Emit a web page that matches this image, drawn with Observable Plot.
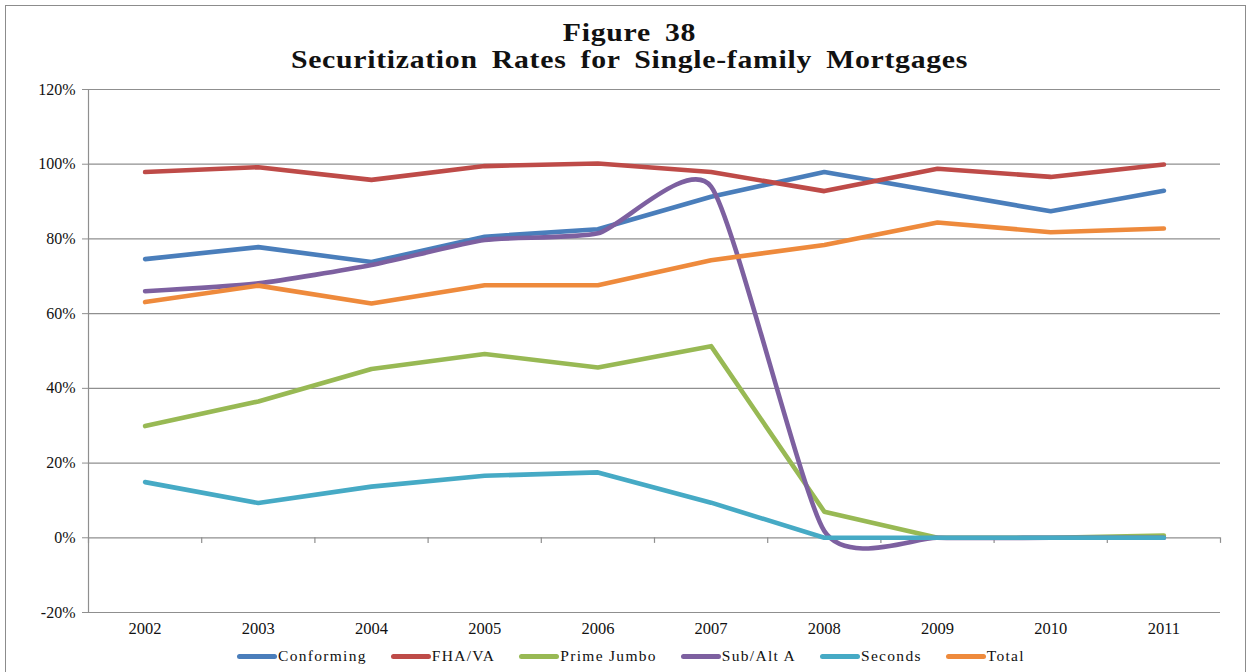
<!DOCTYPE html>
<html>
<head>
<meta charset="utf-8">
<script src="https://cdn.jsdelivr.net/npm/d3@7"></script>
<script src="https://cdn.jsdelivr.net/npm/@observablehq/plot@0.6"></script>
<style>
  html, body { margin: 0; padding: 0; background: #fff; }
  #wrap { position: relative; width: 1249px; height: 672px; overflow: hidden; background: #fff; font-family: "Liberation Serif", "Times New Roman", serif; }
  #border { position: absolute; left: 5px; top: 5px; width: 1241px; height: 700px; border: 1.5px solid #8c8c8c; box-sizing: border-box; }
  #title { position: absolute; left: 0; top: 19px; width: 1259px; text-align: center; font-weight: bold; font-size: 25px; line-height: 27px; letter-spacing: 0.6px; word-spacing: 5px; color: #111; transform: scaleX(1.19); transform-origin: 629.5px 0; }
  #chart { position: absolute; left: 0; top: 80px; }
  #legend { position: absolute; left: 237px; top: 647px; display: flex; align-items: center; font-size: 15.5px; letter-spacing: 1.3px; color: #111; }
  .item { display: flex; align-items: center; margin-right: 24px; }
  .sw { width: 40px; height: 5px; border-radius: 3px; margin-right: 1px; }
</style>
</head>
<body>
<div id="wrap">
  <div id="border"></div>
  <div id="title">Figure 38<br>Securitization Rates for Single-family Mortgages</div>
  <div id="chart"></div>
  <div id="legend"></div>
</div>
<script>
const years = [2002, 2003, 2004, 2005, 2006, 2007, 2008, 2009, 2010, 2011];
const seriesNames = ["Conforming", "FHA/VA", "Prime Jumbo", "Sub/Alt A", "Seconds", "Total"];
const seriesColors = ["#4A7EBB", "#BE4B48", "#98B954", "#7D60A0", "#46AAC5", "#EE8A3C"];

const conforming = [74.6, 77.8, 73.8, 80.6, 82.6, 91.3, 97.9, 92.6, 87.4, 92.9];
const fhaVa      = [97.9, 99.2, 95.8, 99.5, 100.2, 97.9, 92.8, 98.8, 96.6, 99.9];
const primeJumbo = [29.9, 36.5, 45.2, 49.2, 45.6, 51.3, 7.0, 0.0, 0.0, 0.6];
const subAltA    = [66.0, 68.1, 73.0, 79.7, 81.5, 94.0, 1.8, 0.0, 0.0, 0.0];
const seconds    = [14.9, 9.3, 13.7, 16.6, 17.5, 9.4, 0.0, 0.0, 0.0, 0.0];
const total      = [63.1, 67.5, 62.7, 67.6, 67.6, 74.3, 78.4, 84.4, 81.8, 82.8];

const yTicks = [-20, 0, 20, 40, 60, 80, 100, 120];

const seriesValues = [conforming, fhaVa, primeJumbo, subAltA, seconds, total];
const rows = seriesNames.flatMap((name, i) => years.map((yr, j) => ({series: name, year: yr, value: seriesValues[i][j]})));
const xBounds = years.map(y => y - 0.5).concat([years[years.length - 1] + 0.5]);

const gridColor = "#8f8f8f";
const lineMarks = seriesNames.map(name => Plot.line(rows.filter(d => d.series === name), {
  x: "year", y: "value", stroke: "series", strokeWidth: 4.6,
  strokeLinecap: "round", strokeLinejoin: "round",
  curve: name === "Sub/Alt A" ? d3.curveCardinal.tension(0.4) : "linear"
}));

const chart = Plot.plot({
  width: 1249,
  height: 560,
  marginTop: 9,
  marginBottom: 28,
  marginLeft: 88,
  marginRight: 29,
  style: {fontFamily: "'Liberation Serif', 'Times New Roman', serif", background: "transparent", color: "#111"},
  x: {domain: [xBounds[0], xBounds[xBounds.length - 1]]},
  y: {domain: [-20, 120]},
  color: {domain: seriesNames, range: seriesColors},
  marks: [
    Plot.gridY(yTicks, {stroke: gridColor, strokeOpacity: 1, strokeWidth: 1.2}),
    Plot.ruleX([xBounds[0]], {y1: -20, y2: 120, stroke: gridColor, strokeWidth: 1.2}),
    Plot.ruleX(xBounds, {y1: 0, y2: -1.5, stroke: gridColor, strokeWidth: 1.2}),
    Plot.axisY(yTicks, {tickSize: 6, tickPadding: 7, tickFormat: d => d + "%", stroke: gridColor, fontSize: 16, label: null, letterSpacing: 0.9}),
    Plot.axisX(years, {tickSize: 0, tickPadding: 10, tickFormat: d => String(d), fontSize: 16.5, label: null, letterSpacing: 1.4}),
    ...lineMarks
  ]
});
document.getElementById("chart").appendChild(chart);

const legend = document.getElementById("legend");
seriesNames.forEach((name, i) => {
  const item = document.createElement("div");
  item.className = "item";
  const sw = document.createElement("div");
  sw.className = "sw";
  sw.style.background = seriesColors[i];
  const lab = document.createElement("span");
  lab.textContent = name;
  item.appendChild(sw);
  item.appendChild(lab);
  legend.appendChild(item);
});
</script>
</body>
</html>
